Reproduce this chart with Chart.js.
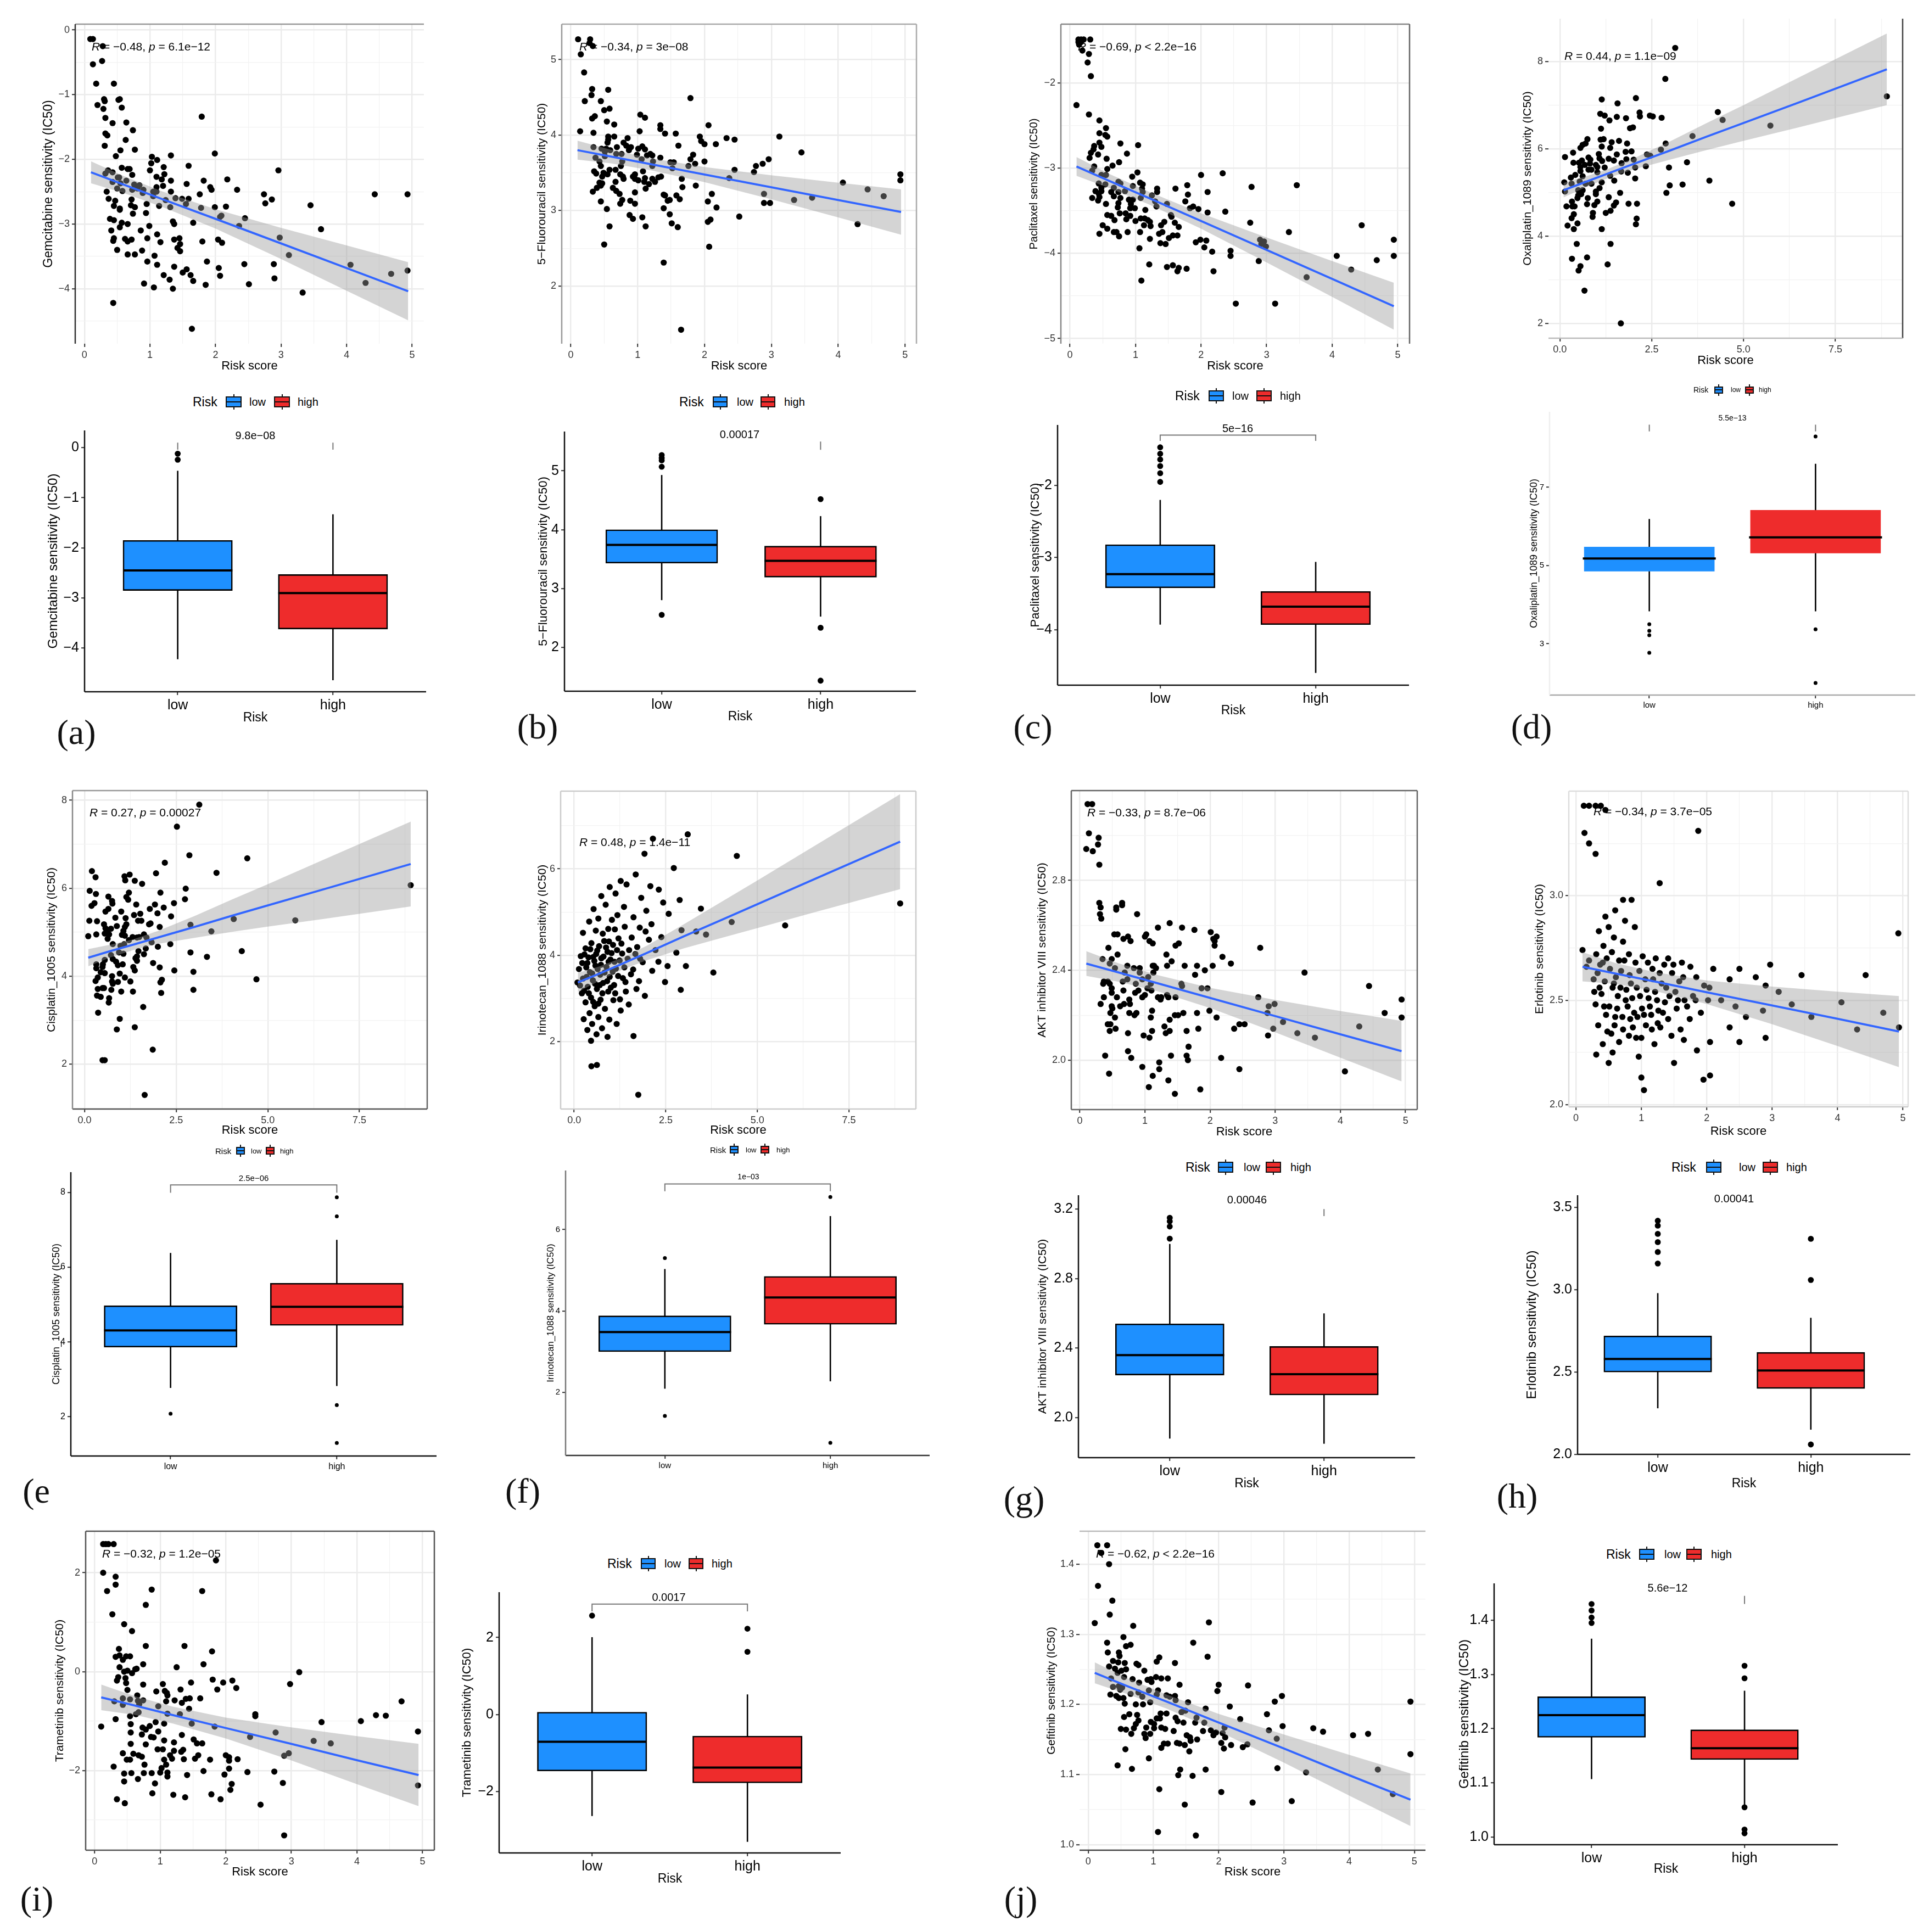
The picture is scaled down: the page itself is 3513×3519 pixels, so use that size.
<!DOCTYPE html>
<html><head><meta charset="utf-8">
<script src="https://cdn.jsdelivr.net/npm/chart.js@4/dist/chart.umd.min.js"></script>
<style>
html,body{margin:0;padding:0;background:#fff}
#page{position:relative;width:3513px;height:3519px;overflow:hidden;background:#fff}
canvas{position:absolute}
.t{position:absolute;white-space:nowrap;color:#000;font-family:"Liberation Sans",Arial,sans-serif;transform:translateY(-50%);line-height:1}
.l{position:absolute;white-space:nowrap;color:#111;font-family:"Liberation Serif",serif;transform:translate(-50%,-50%);line-height:1}
.k{position:absolute;box-sizing:border-box;border:2px solid #111}
.k i{position:absolute;left:0;right:0;top:50%;height:2px;margin-top:-1px;background:#111}
.k b{position:absolute;left:50%;width:2px;margin-left:-1px;background:#111}
</style></head><body><div id="page"></div>
<script>
const riskGroups=['low','high'];
const riskColors=['#1E90FF','#EE2C2C'];

/* ---------- scatter values: [risk score, IC50] ---------- */
const a_points=[[.09,-.14],[.13,-.14],[.28,-.25],[.27,-.48],[.13,-.53],[.18,-.83],[.45,-.83],[.30,-1.07],[.31,-1.10],[.54,-1.07],[.52,-1.08],[.2,-1.16],[.29,-1.22],[.57,-1.20],[.32,-1.36],[.43,-1.44],[.64,-1.43],[.74,-1.55],[1.79,-1.34],[.32,-1.6],[.35,-1.63],[.63,-1.7],[.31,-1.79],[.55,-1.86],[.77,-1.85],[.48,-1.95],[1.03,-1.96],[1.11,-2.01],[1.02,-2.06],[1.32,-1.94],[1.99,-1.91],[.57,-2.13],[.66,-2.15],[.69,-2.15],[1.0,-2.17],[1.21,-2.12],[1.59,-2.10],[2.96,-2.17],[.32,-2.22],[.36,-2.17],[.43,-2.2],[.73,-2.24],[1.22,-2.23],[1.10,-2.27],[.51,-2.28],[.53,-2.28],[1.18,-2.31],[1.32,-2.33],[.64,-2.33],[1.82,-2.33],[2.18,-2.31],[.43,-2.35],[.55,-2.37],[.76,-2.39],[.84,-2.40],[1.56,-2.38],[1.20,-2.41],[1.10,-2.43],[1.92,-2.43],[.50,-2.45],[.73,-2.47],[.81,-2.45],[.90,-2.47],[.58,-2.49],[1.94,-2.47],[2.33,-2.47],[.34,-2.5],[.89,-2.52],[1.05,-2.5],[1.1,-2.5],[1.32,-2.5],[1.76,-2.54],[2.74,-2.54],[4.43,-2.54],[4.93,-2.54],[1.05,-2.57],[.37,-2.61],[.47,-2.64],[.72,-2.62],[1.39,-2.6],[1.24,-2.63],[1.49,-2.61],[1.59,-2.61],[2.86,-2.62],[.95,-2.69],[2.76,-2.68],[1.55,-2.69],[3.45,-2.71],[.45,-2.72],[.71,-2.71],[.77,-2.74],[1.14,-2.72],[1.31,-2.74],[1.78,-2.75],[1.99,-2.74],[2.16,-2.73],[.54,-2.78],[.54,-2.76],[.74,-2.84],[.94,-2.83],[2.07,-2.89],[2.09,-2.87],[2.45,-2.91],[.39,-2.92],[.45,-2.94],[1.35,-2.96],[1.37,-3.0],[.57,-2.98],[.66,-3.0],[1.66,-2.98],[2.36,-3.03],[.99,-3.03],[.54,-3.05],[.41,-3.1],[.86,-3.1],[3.61,-3.08],[1.11,-3.16],[.45,-3.22],[.96,-3.22],[1.45,-3.22],[2.98,-3.21],[.44,-3.26],[.62,-3.23],[.66,-3.27],[.72,-3.24],[1.37,-3.24],[1.8,-3.27],[2.04,-3.24],[2.1,-3.29],[1.16,-3.28],[1.46,-3.31],[1.42,-3.37],[1.46,-3.42],[.5,-3.4],[.88,-3.41],[.66,-3.47],[.77,-3.47],[1.07,-3.49],[3.12,-3.48],[.96,-3.58],[1.87,-3.58],[2.89,-3.62],[2.44,-3.62],[1.11,-3.63],[1.37,-3.66],[4.06,-3.63],[2.05,-3.68],[1.56,-3.7],[1.5,-3.75],[4.93,-3.72],[4.68,-3.77],[1.21,-3.79],[1.62,-3.79],[2.07,-3.8],[2.9,-3.84],[1.3,-3.86],[1.66,-3.88],[4.29,-3.91],[.91,-3.92],[1.85,-3.94],[2.51,-3.93],[1.06,-3.98],[1.35,-4.0],[3.33,-4.06],[.44,-4.22],[1.64,-4.62]];
const b_points=[[.11,5.27],[.29,5.27],[.28,5.22],[.33,5.18],[.15,5.07],[.20,4.83],[.32,4.61],[.31,4.53],[.56,4.60],[.21,4.45],[.45,4.45],[1.79,4.49],[.5,4.33],[.58,4.35],[.36,4.25],[.32,4.22],[1.04,4.27],[1.11,4.23],[.54,4.18],[.65,4.14],[1.34,4.13],[1.34,4.08],[2.06,4.13],[.14,4.05],[.34,4.03],[1.03,4.05],[1.41,4.02],[1.57,4.02],[.65,3.98],[.56,3.98],[.56,3.94],[.85,3.96],[1.93,3.98],[2.33,3.96],[2.45,3.94],[3.12,3.98],[.55,3.9],[.79,3.9],[1.95,3.92],[2.0,3.88],[2.17,3.88],[.34,3.84],[.69,3.84],[.83,3.86],[1.61,3.86],[1.07,3.85],[1.01,3.82],[.46,3.82],[.53,3.82],[.59,3.80],[.87,3.8],[.9,3.84],[1.11,3.81],[.51,3.78],[.68,3.75],[.76,3.75],[.99,3.74],[1.19,3.75],[3.45,3.77],[.37,3.7],[.51,3.72],[1.14,3.73],[1.22,3.73],[1.83,3.74],[1.34,3.7],[1.06,3.68],[1.79,3.68],[2.0,3.65],[2.96,3.68],[1.23,3.65],[.77,3.65],[.43,3.65],[1.49,3.64],[1.54,3.64],[1.86,3.62],[2.87,3.62],[2.77,3.59],[.45,3.59],[.75,3.59],[1.22,3.59],[1.76,3.59],[.67,3.54],[.58,3.54],[.35,3.52],[1.08,3.52],[2.45,3.54],[2.74,3.51],[1.52,3.56],[.38,3.49],[.49,3.5],[.55,3.48],[.74,3.48],[.96,3.48],[.93,3.45],[.78,3.45],[.79,3.42],[1.35,3.45],[1.11,3.43],[1.31,3.44],[1.22,3.42],[1.66,3.42],[2.37,3.43],[.96,3.42],[1.01,3.4],[.47,3.45],[.67,3.38],[.43,3.37],[1.1,3.38],[1.26,3.38],[.47,3.36],[4.07,3.37],[1.17,3.35],[.45,3.33],[1.87,3.33],[1.67,3.31],[.39,3.3],[.63,3.3],[1.12,3.29],[4.44,3.28],[4.93,3.48],[4.93,3.4],[.68,3.26],[.33,3.25],[.96,3.24],[.73,3.22],[2.11,3.22],[2.89,3.22],[1.39,3.21],[1.41,3.2],[1.58,3.2],[4.68,3.19],[3.61,3.17],[.77,3.14],[.74,3.09],[.89,3.13],[1.48,3.14],[1.63,3.15],[1.45,3.13],[.45,3.12],[3.34,3.14],[2.05,3.12],[2.89,3.1],[2.98,3.1],[.96,3.09],[2.18,3.04],[.54,3.02],[1.39,3.03],[1.48,2.95],[.88,2.94],[2.52,2.92],[.93,2.89],[1.07,2.91],[2.09,2.88],[2.05,2.85],[1.51,2.83],[4.29,2.82],[.58,2.79],[1.12,2.79],[1.6,2.78],[.5,2.55],[2.07,2.52],[1.39,2.31],[1.65,1.42]];
const c_points=[[.13,-1.49],[.17,-1.49],[.21,-1.49],[.13,-1.52],[.17,-1.52],[.14,-1.55],[.31,-1.49],[.19,-1.62],[.29,-1.66],[.27,-1.76],[.32,-1.92],[.1,-2.26],[.29,-2.37],[.45,-2.44],[.55,-2.53],[.45,-2.59],[.54,-2.61],[.57,-2.63],[.77,-2.71],[1.04,-2.73],[.45,-2.7],[.37,-2.74],[.48,-2.75],[.36,-2.78],[.32,-2.82],[.43,-2.84],[.87,-2.83],[.30,-2.88],[.56,-2.89],[.75,-2.93],[.65,-2.97],[.57,-3.01],[.37,-2.98],[.34,-3.03],[1.03,-3.05],[2.33,-3.06],[2.0,-3.08],[.95,-3.1],[.48,-3.08],[.55,-3.08],[.44,-3.18],[.54,-3.19],[.74,-3.16],[.77,-3.18],[1.07,-3.17],[1.11,-3.19],[.96,-3.21],[1.79,-3.2],[2.77,-3.22],[3.46,-3.2],[.48,-3.23],[1.61,-3.24],[.67,-3.23],[1.33,-3.24],[2.1,-3.28],[1.8,-3.31],[1.1,-3.24],[.39,-3.27],[.48,-3.27],[.44,-3.3],[.63,-3.28],[.74,-3.28],[.84,-3.27],[1.11,-3.28],[1.33,-3.28],[1.25,-3.32],[.34,-3.35],[.45,-3.34],[.77,-3.35],[.67,-3.33],[.9,-3.37],[.96,-3.37],[1.08,-3.35],[.43,-3.38],[1.76,-3.39],[1.3,-3.39],[.55,-3.42],[.74,-3.41],[.73,-3.46],[.93,-3.42],[1.48,-3.42],[1.32,-3.45],[1.83,-3.47],[1.88,-3.45],[1.96,-3.48],[.92,-3.47],[.99,-3.47],[1.15,-3.49],[2.37,-3.51],[2.1,-3.52],[.76,-3.53],[.57,-3.55],[.63,-3.56],[.85,-3.53],[.92,-3.56],[1.54,-3.55],[1.55,-3.57],[.68,-3.61],[.86,-3.6],[1.08,-3.59],[1.14,-3.59],[1.19,-3.61],[1.0,-3.62],[1.6,-3.64],[1.44,-3.63],[2.75,-3.64],[1.22,-3.63],[.5,-3.67],[1.13,-3.67],[1.39,-3.67],[1.23,-3.68],[1.66,-3.69],[.57,-3.71],[.45,-3.77],[.67,-3.75],[.71,-3.75],[.88,-3.75],[1.07,-3.75],[1.36,-3.77],[1.41,-3.75],[3.34,-3.75],[4.45,-3.67],[.75,-3.8],[1.57,-3.79],[1.64,-3.79],[1.51,-3.82],[1.22,-3.83],[1.92,-3.87],[1.99,-3.84],[2.08,-3.85],[1.38,-3.88],[1.46,-3.89],[2.9,-3.84],[2.96,-3.86],[2.92,-3.89],[2.99,-3.92],[4.94,-3.84],[1.06,-3.94],[2.05,-3.93],[2.17,-3.98],[2.45,-3.97],[2.45,-4.03],[4.07,-4.03],[4.94,-4.03],[2.88,-4.09],[4.68,-4.08],[1.21,-4.13],[1.48,-4.16],[1.57,-4.14],[1.64,-4.21],[1.66,-4.17],[1.78,-4.18],[2.19,-4.21],[4.29,-4.19],[1.09,-4.32],[3.61,-4.28],[2.53,-4.59],[3.13,-4.59]];
const d_points=[[3.14,8.31],[2.87,7.6],[2.07,7.16],[1.14,7.13],[1.57,7.04],[8.9,7.2],[4.3,6.84],[4.43,6.66],[5.73,6.53],[1.1,6.8],[1.22,6.76],[1.35,6.65],[1.55,6.73],[1.8,6.7],[2.17,6.83],[2.18,6.74],[2.45,6.76],[2.53,6.74],[2.77,6.71],[1.12,6.46],[1.91,6.47],[1.99,6.49],[3.61,6.29],[.75,6.22],[1.11,6.21],[1.19,6.22],[1.41,6.15],[1.61,6.18],[1.83,6.12],[2.88,6.12],[.62,6.09],[.7,6.12],[.56,6.02],[1.14,6.05],[1.37,6.02],[2.75,5.98],[.36,5.91],[.14,5.81],[1.06,5.88],[1.79,5.93],[1.95,5.94],[1.55,5.87],[2.37,5.87],[2.46,5.84],[.37,5.68],[.6,5.73],[.78,5.8],[.83,5.75],[1.08,5.78],[1.33,5.77],[1.81,5.76],[2.01,5.75],[1.47,5.73],[.52,5.68],[.68,5.63],[.82,5.66],[.98,5.63],[1.15,5.72],[1.68,5.67],[3.46,5.69],[.56,5.58],[.78,5.52],[.86,5.52],[1.02,5.58],[1.22,5.57],[2.05,5.57],[2.34,5.6],[2.97,5.57],[.56,5.49],[.3,5.34],[.42,5.4],[.62,5.37],[1.02,5.46],[1.37,5.38],[1.67,5.48],[1.85,5.45],[2.05,5.32],[1.48,5.27],[.12,5.23],[.32,5.2],[.54,5.25],[.7,5.2],[.86,5.2],[1.14,5.23],[4.07,5.27],[2.99,5.16],[3.34,5.18],[.14,5.02],[.5,5.05],[.62,5.05],[1.08,5.1],[.98,5.02],[.98,4.96],[1.64,4.99],[2.9,4.99],[.5,4.93],[.58,4.96],[1.33,4.89],[.33,4.79],[.48,4.87],[.76,4.87],[.74,4.73],[.18,4.68],[.4,4.68],[.34,4.68],[.94,4.71],[1.02,4.79],[1.53,4.77],[1.47,4.7],[1.87,4.74],[2.1,4.74],[4.69,4.74],[.9,4.53],[.89,4.44],[1.25,4.53],[1.38,4.58],[.38,4.5],[.32,4.41],[2.09,4.4],[2.07,4.27],[.48,4.29],[.21,4.24],[.38,4.16],[1.14,4.16],[.46,3.82],[1.38,3.82],[.33,3.48],[.74,3.51],[1.3,3.35],[.56,3.31],[.51,3.21],[.67,2.75],[1.66,2.0]];
const e_points=[[3.13,7.9],[2.52,7.4],[2.86,6.75],[4.44,6.68],[2.19,6.58],[.2,6.39],[3.6,6.35],[1.95,6.34],[1.23,6.31],[.3,6.25],[1.09,6.27],[1.11,6.18],[1.37,6.17],[1.57,6.1],[8.9,6.07],[2.76,5.99],[.14,5.94],[.31,5.87],[2.07,5.9],[1.21,5.9],[.65,5.81],[1.14,5.8],[1.19,5.74],[.75,5.71],[.76,5.65],[2.74,5.75],[2.44,5.66],[.19,5.6],[.27,5.66],[1.41,5.63],[1.92,5.63],[2.16,5.56],[1.78,5.53],[.65,5.53],[.57,5.47],[1.0,5.47],[1.99,5.43],[1.52,5.42],[1.35,5.39],[2.36,5.36],[.84,5.33],[1.12,5.32],[.13,5.26],[.34,5.25],[1.46,5.26],[1.55,5.26],[5.75,5.27],[4.07,5.3],[1.76,5.18],[1.8,5.2],[1.14,5.18],[2.89,5.17],[.53,5.18],[2.05,5.12],[.88,5.14],[1.1,5.12],[.57,5.09],[.72,5.08],[.61,5.02],[3.46,5.02],[1.06,5.03],[.55,4.97],[.67,4.95],[.32,4.95],[.1,4.91],[1.02,4.94],[1.1,4.92],[1.62,4.95],[.63,4.85],[1.31,4.89],[1.43,4.88],[1.49,4.89],[1.21,4.82],[1.69,4.88],[1.83,4.77],[.77,4.73],[.98,4.69],[1.08,4.73],[2.34,4.73],[2.0,4.67],[1.67,4.63],[.72,4.48],[.94,4.54],[1.06,4.51],[1.47,4.57],[2.89,4.54],[4.29,4.57],[1.62,4.5],[1.43,4.45],[1.39,4.41],[3.34,4.44],[.55,4.37],[.77,4.39],[.86,4.33],[1.43,4.35],[.91,4.25],[1.04,4.27],[.32,4.27],[.5,4.27],[.49,4.21],[1.87,4.3],[1.33,4.21],[2.05,4.2],[1.37,4.13],[.32,4.18],[2.45,4.13],[2.97,4.1],[.44,4.09],[.55,4.07],[.96,4.06],[.75,4.0],[1.1,3.97],[.36,3.97],[2.11,3.92],[4.69,3.93],[.3,3.89],[.75,3.88],[.91,3.87],[1.25,3.88],[2.07,3.86],[.77,3.83],[.36,3.71],[.49,3.73],[.53,3.73],[.73,3.69],[2.97,3.69],[1.0,3.65],[1.32,3.65],[2.09,3.62],[.34,3.56],[.44,3.53],[.67,3.5],[.66,3.4],[1.6,3.3],[.37,3.17],[.96,3.03],[1.37,2.84],[.88,2.79],[1.86,2.33],[.49,2.09],[.55,2.09],[1.64,1.3]];
const f_points=[[3.1,6.8],[2.15,6.7],[1.92,6.35],[4.44,6.3],[2.72,6.02],[1.68,5.87],[1.27,5.72],[1.43,5.64],[2.08,5.6],[2.31,5.52],[.97,5.58],[1.13,5.43],[.74,5.37],[1.83,5.33],[2.43,5.22],[2.88,5.28],[8.9,5.2],[3.46,5.08],[1.36,5.12],[.86,5.17],[1.97,5.03],[.53,5.07],[2.58,4.96],[5.76,4.69],[4.3,4.77],[3.33,4.55],[3.6,4.48],[2.93,4.58],[1.18,4.93],[1.62,4.88],[.66,4.85],[1.03,4.82],[.41,4.78],[2.11,4.72],[1.79,4.64],[1.38,4.66],[.93,4.61],[.59,4.57],[.24,4.52],[2.38,4.42],[2.04,4.36],[1.57,4.41],[1.21,4.39],[.82,4.33],[.47,4.28],[1.06,4.24],[1.72,4.19],[.31,4.16],[.63,4.11],[.91,4.08],[1.31,4.04],[2.22,4.12],[2.79,4.06],[.18,3.98],[.52,3.96],[.74,3.93],[.99,3.9],[1.46,3.92],[1.87,3.84],[.36,3.82],[.58,3.76],[.88,3.73],[1.14,3.69],[3.8,3.6],[2.13,3.64],[1.61,3.67],[.13,3.68],[.43,3.61],[.71,3.55],[.97,3.5],[1.33,3.47],[.24,3.46],[.51,3.42],[.79,3.36],[1.09,3.31],[1.77,3.4],[2.48,3.38],[2.91,3.2],[.09,3.37],[.37,3.27],[.62,3.22],[.93,3.16],[1.41,3.16],[1.93,3.06],[.21,3.12],[.46,3.02],[.72,2.97],[1.07,2.96],[.31,2.91],[.56,2.82],[.84,2.76],[1.27,2.72],[.42,2.66],[.66,2.57],[.96,2.51],[.26,2.52],[.49,2.41],[.76,2.31],[1.16,2.41],[.36,2.27],[.61,2.17],[.91,2.11],[.46,2.02],[1.62,2.13],[.47,1.43],[.62,1.46],[1.75,.77],
[.28,4.02],[.33,3.72],[.39,3.95],[.44,4.14],[.49,3.58],[.55,3.87],[.57,3.34],[.6,4.03],[.64,3.68],[.68,4.21],[.7,3.31],[.73,3.78],[.77,3.12],[.8,3.97],[.83,3.6],[.87,4.18],[.9,3.4],[.94,3.85],[1.0,3.25],[1.02,4.05],[1.05,3.62],[1.1,3.85],[1.12,3.12],[1.17,4.12],[1.2,3.52],[1.24,3.88],[1.29,4.27],[1.37,3.72],[1.4,3.38],[1.5,4.12],[1.55,3.56],[1.67,4.03],[1.7,3.22],[1.8,3.92],[.16,3.3],[.22,3.82],[.27,3.18],[.34,3.5],[.4,3.12],[.52,2.92],[.66,2.88],[.78,4.5],[.95,4.32],[1.11,4.6],[1.25,2.98],[1.49,2.86],[1.95,4.55],[2.3,3.85],[2.55,3.75],[3.05,3.75]];
const g_points=[[.12,3.14],[.19,3.14],[.14,3.01],[.29,2.99],[.28,2.96],[.1,2.94],[.2,2.93],[.3,2.87],[.3,2.7],[.32,2.68],[.31,2.65],[.33,2.63],[.56,2.68],[.56,2.67],[.65,2.7],[.65,2.69],[.88,2.65],[1.2,2.59],[1.38,2.61],[1.57,2.59],[1.76,2.58],[2.01,2.57],[2.1,2.55],[2.05,2.54],[2.07,2.53],[2.07,2.51],[.53,2.56],[.58,2.56],[1.02,2.56],[1.0,2.55],[.74,2.55],[.67,2.54],[.78,2.53],[1.07,2.53],[1.12,2.52],[1.52,2.52],[1.47,2.51],[.44,2.5],[2.77,2.5],[.58,2.47],[2.19,2.46],[1.33,2.47],[.35,2.45],[.49,2.45],[2.32,2.43],[1.41,2.44],[.46,2.43],[.73,2.42],[.54,2.41],[1.34,2.42],[1.61,2.42],[1.8,2.42],[2.04,2.42],[1.12,2.42],[1.14,2.42],[1.92,2.4],[.83,2.41],[.92,2.41],[1.17,2.41],[.69,2.39],[.92,2.39],[3.45,2.39],[1.13,2.39],[1.77,2.38],[1.05,2.37],[.96,2.36],[.73,2.36],[.66,2.35],[.37,2.35],[.43,2.35],[.36,2.34],[.46,2.34],[.86,2.34],[1.56,2.34],[1.57,2.33],[1.09,2.34],[4.44,2.33],[.49,2.32],[.49,2.3],[1.04,2.32],[1.1,2.31],[1.96,2.32],[1.87,2.32],[.67,2.31],[.9,2.31],[.85,2.3],[1.0,2.29],[.96,2.28],[1.34,2.29],[.37,2.28],[.57,2.28],[1.2,2.28],[1.25,2.28],[1.24,2.27],[1.36,2.28],[1.47,2.28],[2.74,2.28],[4.94,2.27],[.32,2.25],[.62,2.24],[.68,2.25],[.76,2.27],[.77,2.25],[.49,2.24],[.5,2.23],[2.99,2.25],[2.9,2.24],[.47,2.21],[.76,2.21],[.87,2.21],[.84,2.2],[1.11,2.22],[1.8,2.21],[1.99,2.22],[2.88,2.21],[4.68,2.21],[1.59,2.21],[1.46,2.2],[1.51,2.2],[.54,2.19],[1.09,2.19],[2.1,2.19],[4.94,2.19],[1.38,2.18],[3.12,2.17],[.43,2.16],[.47,2.16],[2.53,2.16],[2.45,2.16],[1.3,2.15],[4.29,2.15],[2.37,2.14],[2.97,2.14],[.55,2.14],[.46,2.13],[1.82,2.14],[1.11,2.13],[1.64,2.13],[1.38,2.13],[1.32,2.12],[.74,2.12],[3.34,2.12],[.98,2.11],[1.07,2.1],[2.89,2.11],[3.61,2.1],[1.67,2.06],[.74,2.04],[.39,2.02],[1.4,2.02],[1.64,2.02],[2.17,2.01],[.79,2.01],[1.66,2.0],[1.22,1.99],[.96,1.97],[1.22,1.96],[2.45,1.96],[.45,1.94],[4.07,1.95],[1.12,1.93],[1.36,1.91],[1.06,1.88],[1.85,1.87],[1.46,1.85]];
const h_points=[[.12,3.43],[.2,3.43],[.3,3.43],[.38,3.43],[.45,3.41],[.13,3.3],[.2,3.25],[.3,3.2],[1.87,3.31],[1.28,3.06],[.72,2.98],[.85,2.98],[.6,2.93],[.45,2.9],[.75,2.88],[.5,2.85],[.35,2.83],[.9,2.85],[.58,2.8],[.72,2.78],[.42,2.76],[4.93,2.82],[.1,2.74],[.31,2.72],[.55,2.73],[.81,2.72],[1.02,2.71],[1.22,2.7],[1.41,2.7],[1.62,2.68],[.2,2.69],[.41,2.68],[.66,2.69],[.91,2.68],[1.1,2.68],[1.35,2.67],[1.75,2.66],[2.1,2.65],[2.5,2.65],[2.97,2.67],[3.45,2.62],[4.43,2.62],[.16,2.66],[.33,2.63],[.52,2.65],[.69,2.64],[.97,2.64],[1.17,2.65],[1.47,2.63],[1.84,2.61],[2.35,2.6],[2.75,2.61],[.27,2.6],[.44,2.59],[.61,2.61],[.84,2.58],[1.06,2.6],[1.31,2.58],[1.58,2.59],[2.04,2.56],[2.9,2.57],[3.1,2.54],[.36,2.56],[.56,2.56],[.77,2.55],[.93,2.56],[1.21,2.54],[1.52,2.54],[1.79,2.52],[2.22,2.5],[3.3,2.48],[4.06,2.49],[.39,2.53],[.64,2.52],[.86,2.51],[1.11,2.51],[1.36,2.49],[1.66,2.5],[2.02,2.5],[2.44,2.47],[2.86,2.45],[3.6,2.42],[4.7,2.44],[.3,2.48],[.51,2.47],[.79,2.47],[1.01,2.46],[1.26,2.45],[1.54,2.46],[1.91,2.44],[2.6,2.42],[4.3,2.36],[4.94,2.37],[.46,2.43],[.71,2.42],[.94,2.42],[1.15,2.43],[1.41,2.41],[1.74,2.41],[2.35,2.37],[.34,2.38],[.59,2.38],[.87,2.37],[1.07,2.38],[1.29,2.37],[1.6,2.36],[2.9,2.32],[.54,2.34],[.81,2.33],[1.0,2.32],[1.46,2.33],[1.65,2.31],[2.05,2.3],[2.5,2.3],[.41,2.29],[.66,2.3],[1.2,2.29],[1.85,2.26],[.31,2.24],[.56,2.25],[.96,2.23],[.5,2.2],[1.5,2.2],[1.0,2.13],[2.05,2.14],[1.95,2.12],[1.04,2.07],
[.37,2.67],[.47,2.7],[.58,2.58],[.63,2.46],[.68,2.56],[.74,2.69],[.76,2.5],[.82,2.62],[.89,2.44],[.98,2.52],[1.04,2.43],[1.08,2.55],[1.13,2.47],[1.18,2.6],[1.24,2.5],[1.28,2.63],[1.33,2.44],[1.38,2.56],[1.43,2.52],[1.49,2.67],[1.56,2.5],[1.64,2.61],[1.7,2.47],[1.83,2.5],[1.96,2.57],[.28,2.54],[.43,2.47],[.48,2.35],[.6,2.42],[.72,2.36],[.83,2.41],[.92,2.32],[1.16,2.36],[1.25,2.39]];
const i_points=[[.13,2.58],[.17,2.58],[.21,2.58],[.29,2.58],[1.85,2.25],[.13,2.0],[.32,1.92],[.32,1.76],[.19,1.63],[1.64,1.63],[.87,1.66],[.78,1.35],[.27,1.16],[.45,.96],[.57,.82],[.78,.52],[1.37,.52],[.37,.46],[1.79,.41],[.32,.3],[.38,.33],[.48,.31],[.54,.31],[.43,.24],[.74,.15],[1.66,.15],[.38,.09],[1.25,.09],[.64,.06],[.62,.05],[.45,0],[.5,.02],[.57,-.03],[3.12,-.01],[.36,-.11],[.34,-.18],[.47,-.13],[.48,-.23],[1.8,-.16],[2.1,-.18],[1.96,-.22],[1.47,-.22],[.74,-.26],[1.04,-.25],[2.98,-.25],[2.16,-.33],[.5,-.37],[1.31,-.36],[1.87,-.36],[.94,-.4],[1.07,-.39],[1.1,-.43],[.65,-.48],[1.11,-.48],[.43,-.54],[.54,-.56],[.74,-.58],[1.22,-.58],[1.61,-.54],[1.45,-.54],[1.39,-.55],[1.09,-.6],[4.68,-.6],[.3,-.6],[.66,-.59],[1.33,-.63],[.43,-.67],[.68,-.66],[.97,-.7],[1.44,-.75],[.67,-.82],[.63,-.86],[1.11,-.85],[1.3,-.86],[2.45,-.86],[2.45,-.9],[4.29,-.88],[4.44,-.89],[.54,-.9],[.32,-.96],[4.06,-1.0],[3.46,-1.02],[.55,-1.06],[.93,-1.02],[1.06,-1.05],[1.48,-1.05],[.1,-1.11],[.84,-1.1],[.73,-1.13],[.78,-1.17],[1.83,-1.11],[4.93,-1.21],[.55,-1.23],[.97,-1.21],[.72,-1.27],[1.33,-1.28],[2.76,-1.23],[.86,-1.32],[.9,-1.33],[2.37,-1.32],[1.06,-1.39],[1.51,-1.37],[3.34,-1.4],[.55,-1.46],[.78,-1.47],[1.21,-1.43],[1.56,-1.45],[1.64,-1.45],[3.6,-1.45],[.96,-1.57],[1.04,-1.57],[1.35,-1.58],[1.32,-1.62],[1.21,-1.6],[.43,-1.65],[.59,-1.66],[2.96,-1.65],[.67,-1.69],[.72,-1.72],[2.89,-1.7],[1.58,-1.69],[1.53,-1.76],[2.0,-1.69],[2.05,-1.73],[1.15,-1.69],[.49,-1.78],[.54,-1.78],[1.06,-1.78],[1.18,-1.76],[1.36,-1.77],[1.76,-1.78],[2.05,-1.8],[2.18,-1.77],[.76,-1.88],[1.09,-1.88],[1.02,-1.95],[.29,-1.92],[2.05,-1.96],[1.66,-2.01],[2.33,-2.03],[2.74,-2.02],[.45,-2.06],[.56,-2.05],[.75,-2.05],[.87,-2.05],[1.0,-2.04],[1.11,-2.04],[1.11,-2.12],[1.41,-2.09],[1.98,-2.08],[.66,-2.17],[.45,-2.22],[.92,-2.26],[2.09,-2.27],[2.87,-2.25],[4.93,-2.3],[2.07,-2.39],[.88,-2.46],[1.2,-2.49],[1.78,-2.48],[1.38,-2.54],[.34,-2.58],[1.92,-2.58],[.46,-2.66],[2.53,-2.69],[2.89,-3.31]];
const j_points=[[.14,1.427],[.29,1.427],[.2,1.416],[.32,1.4],[.15,1.369],[.37,1.348],[.33,1.328],[.1,1.316],[1.85,1.317],[.69,1.312],[.54,1.296],[.29,1.288],[1.61,1.288],[.65,1.285],[.58,1.283],[.3,1.274],[.47,1.274],[.48,1.269],[1.83,1.268],[1.09,1.267],[1.05,1.261],[.38,1.262],[.46,1.26],[.56,1.259],[.74,1.258],[.77,1.256],[1.33,1.259],[.32,1.254],[.41,1.251],[.58,1.25],[.51,1.248],[.86,1.248],[.45,1.245],[.55,1.239],[1.04,1.239],[.68,1.236],[.91,1.235],[.96,1.236],[.97,1.232],[1.12,1.237],[1.22,1.237],[.35,1.237],[.78,1.231],[1.4,1.228],[2.0,1.228],[2.45,1.227],[.38,1.225],[.47,1.226],[.52,1.224],[.49,1.221],[.93,1.22],[1.07,1.22],[1.98,1.219],[.34,1.214],[.65,1.215],[.77,1.217],[1.05,1.214],[1.2,1.213],[1.25,1.211],[1.33,1.212],[2.97,1.212],[.43,1.212],[.83,1.211],[.47,1.209],[.54,1.209],[1.34,1.206],[1.53,1.203],[2.86,1.204],[4.94,1.204],[.95,1.203],[.56,1.201],[.73,1.2],[.84,1.2],[2.17,1.197],[1.8,1.194],[1.43,1.189],[1.49,1.191],[.63,1.186],[.75,1.185],[1.2,1.187],[1.11,1.187],[2.74,1.186],[.55,1.182],[1.05,1.18],[1.1,1.18],[1.66,1.181],[1.34,1.181],[2.33,1.179],[.77,1.177],[.73,1.172],[.96,1.175],[1.01,1.172],[1.37,1.176],[1.46,1.174],[1.64,1.174],[1.78,1.174],[.7,1.166],[.89,1.167],[1.01,1.166],[1.12,1.167],[1.18,1.165],[2.98,1.169],[3.45,1.166],[2.09,1.167],[.5,1.165],[.58,1.164],[.66,1.158],[.86,1.158],[1.31,1.162],[1.76,1.162],[1.88,1.163],[1.96,1.16],[2.77,1.163],[3.6,1.161],[.95,1.158],[1.92,1.156],[2.06,1.159],[1.51,1.156],[4.06,1.156],[4.29,1.158],[.88,1.152],[1.56,1.153],[1.57,1.148],[2.1,1.153],[1.67,1.15],[2.89,1.151],[1.36,1.145],[1.4,1.144],[2.04,1.145],[1.48,1.142],[1.22,1.144],[1.16,1.144],[2.19,1.142],[2.44,1.143],[2.37,1.139],[2.08,1.137],[1.12,1.138],[.57,1.136],[1.55,1.133],[4.94,1.129],[.93,1.123],[.45,1.113],[.67,1.108],[2.9,1.109],[1.41,1.107],[1.8,1.107],[4.44,1.107],[3.34,1.103],[1.38,1.099],[1.6,1.098],[1.09,1.079],[2.04,1.075],[4.67,1.072],[3.12,1.062],[2.52,1.06],[1.48,1.057],[1.07,1.018],[1.65,1.013]];

/* ---------- fitted lines and confidence bands ---------- */
const bandX5=[.1,.6,1.2,2,3,4,4.94];
const bandX9=[.1,.7,1.3,2,3,4,5,6.5,8.9];
const a_line=[-2.2,-2.39,-2.62,-2.92,-3.3,-3.68,-4.04], a_hi=[-2.03,-2.26,-2.5,-2.77,-3.06,-3.33,-3.59], a_lo=[-2.37,-2.52,-2.74,-3.07,-3.54,-4.03,-4.49];
const b_line=[3.8,3.715,3.613,3.477,3.308,3.138,2.98], b_hi=[3.925,3.805,3.693,3.577,3.468,3.368,3.28], b_lo=[3.675,3.625,3.533,3.377,3.148,2.908,2.68];
const c_line=[-2.98,-3.15,-3.35,-3.62,-3.96,-4.3,-4.62], c_hi=[-2.87,-3.067,-3.276,-3.53,-3.814,-4.09,-4.345], c_lo=[-3.09,-3.233,-3.424,-3.71,-4.106,-4.51,-4.895];
const d_line=[5.05,5.24,5.43,5.65,5.96,6.28,6.59,7.06,7.82], d_hi=[5.215,5.363,5.533,5.775,6.17,6.59,7.0,7.63,8.64], d_lo=[4.885,5.117,5.327,5.525,5.75,5.97,6.18,6.49,7.0];
const e_line=[4.42,4.57,4.71,4.88,5.12,5.37,5.61,5.97,6.55], e_hi=[4.615,4.715,4.831,5.027,5.367,5.735,6.093,6.64,7.515], e_lo=[4.225,4.425,4.589,4.733,4.873,5.005,5.127,5.3,5.585];
const f_line=[3.37,3.58,3.8,4.06,4.44,4.81,5.18,5.74,6.63], f_hi=[3.59,3.745,3.938,4.228,4.72,5.225,5.73,6.5,7.73], f_lo=[3.15,3.415,3.662,3.892,4.16,4.395,4.63,4.98,5.53];
const g_line=[2.43,2.39,2.342,2.277,2.196,2.115,2.04], g_hi=[2.485,2.431,2.378,2.322,2.268,2.219,2.175], g_lo=[2.375,2.349,2.306,2.232,2.124,2.011,1.905];
const h_line=[2.66,2.628,2.59,2.538,2.475,2.411,2.35], h_hi=[2.73,2.678,2.635,2.594,2.565,2.541,2.52], h_lo=[2.59,2.578,2.545,2.482,2.385,2.281,2.18];
const i_line=[-.52,-.68,-.88,-1.14,-1.46,-1.79,-2.09], i_hi=[-.26,-.49,-.71,-.93,-1.125,-1.305,-1.46], i_lo=[-.78,-.87,-1.05,-1.35,-1.795,-2.275,-2.72];
const j_line=[1.245,1.226,1.204,1.174,1.137,1.099,1.064], j_hi=[1.26,1.2373,1.214,1.1865,1.157,1.128,1.1015], j_lo=[1.23,1.2147,1.194,1.1615,1.117,1.07,1.0265];

/* ---------- box plot values, per group [low, high] ---------- */
const a_q1=[-2.85,-3.62], a_med=[-2.45,-2.9], a_q3=[-1.85,-2.53], a_wLo=[-4.22,-4.64], a_wHi=[-.46,-1.33], a_out=[[-.12,-.24],[]];
const b_q1=[3.43,3.19], b_med=[3.74,3.47], b_q3=[4.0,3.72], b_wLo=[2.8,2.52], b_wHi=[4.93,4.23], b_out=[[5.27,5.22,5.18,5.07,2.55],[4.52,2.33,1.43]];
const c_q1=[-3.42,-3.93], c_med=[-3.23,-3.68], c_q3=[-2.82,-3.47], c_wLo=[-3.93,-4.6], c_wHi=[-2.2,-3.06], c_out=[[-1.47,-1.56,-1.64,-1.73,-1.83,-1.95],[]];
const d_q1=[4.82,5.28], d_med=[5.18,5.72], d_q3=[5.51,6.45], d_wLo=[3.83,3.83], d_wHi=[6.19,7.6], d_out=[[3.5,3.33,3.22,2.77],[8.3,3.37,2.0]];
const e_q1=[3.86,4.44], e_med=[4.31,4.94], e_q3=[4.97,5.57], e_wLo=[2.77,2.82], e_wHi=[6.38,6.73], e_out=[[2.08],[7.87,7.36,2.31,1.3]];
const f_q1=[3.0,3.67], f_med=[3.48,4.33], f_q3=[3.88,4.85], f_wLo=[2.09,2.27], f_wHi=[5.03,6.33], f_out=[[5.3,1.42],[6.8,.76]];
const g_q1=[2.245,2.13], g_med=[2.36,2.25], g_q3=[2.54,2.41], g_wLo=[1.88,1.85], g_wHi=[3.0,2.6], g_out=[[3.15,3.13,3.1,3.03],[]];
const h_q1=[2.5,2.4], h_med=[2.58,2.51], h_q3=[2.72,2.62], h_wLo=[2.28,2.15], h_wHi=[2.98,2.83], h_out=[[3.42,3.39,3.34,3.29,3.23,3.16],[3.31,3.06,2.06]];
const i_q1=[-1.47,-1.78], i_med=[-.71,-1.38], i_q3=[.06,-.56], i_wLo=[-2.64,-3.31], i_wHi=[2.01,.52], i_out=[[2.57],[2.23,1.63]];
const j_q1=[1.184,1.143], j_med=[1.225,1.164], j_q3=[1.259,1.198], j_wLo=[1.107,1.057], j_wHi=[1.366,1.27], j_out=[[1.43,1.418,1.405,1.395],[1.316,1.293,1.055,1.014,1.007]];

/* ---------- text ---------- */
const yTitles={a:'Gemcitabine sensitivity (IC50)',b:'5\u2212Fluorouracil sensitivity (IC50)',c:'Paclitaxel sensitivity (IC50)',d:'Oxaliplatin_1089 sensitivity (IC50)',e:'Cisplatin_1005 sensitivity (IC50)',f:'Irinotecan_1088 sensitivity (IC50)',g:'AKT inhibitor VIII sensitivity (IC50)',h:'Erlotinib sensitivity (IC50)',i:'Trametinib sensitivity (IC50)',j:'Gefitinib sensitivity (IC50)'};
const statTexts={a:'*R* = \u22120.48, *p* = 6.1e\u221212',b:'*R* = \u22120.34, *p* = 3e\u221208',c:'*R* = \u22120.69, *p* < 2.2e\u221216',d:'*R* = 0.44, *p* = 1.1e\u221209',e:'*R* = 0.27, *p* = 0.00027',f:'*R* = 0.48, *p* = 1.4e\u221211',g:'*R* = \u22120.33, *p* = 8.7e\u221206',h:'*R* = \u22120.34, *p* = 3.7e\u221205',i:'*R* = \u22120.32, *p* = 1.2e\u221205',j:'*R* = \u22120.62, *p* < 2.2e\u221216'};
const pTexts={a:'9.8e\u221208',b:'0.00017',c:'5e\u221216',d:'5.5e\u221213',e:'2.5e\u221206',f:'1e\u221203',g:'0.00046',h:'0.00041',i:'0.0017',j:'5.6e\u221212'};
const xScore='Risk score', xRisk='Risk';

const FONT='"Liberation Sans",Arial,sans-serif';
const ML=100,MT=30,MR=30,MB=90;
const page=document.getElementById('page');
function lines(px,py){return px.map((x,i)=>({x,y:py[i]}));}
function decor(cfg,ox,oy){
  return {id:'decor',
    beforeDatasetsDraw(ch){
      const c=ch.ctx;c.save();c.fillStyle='#000';
      (cfg.notes||[]).forEach(n=>{
        c.textBaseline='middle';
        const parts=n.text.split('*');
        c.font=n.size+'px '+FONT;
        let w=0;parts.forEach((p,i)=>{c.font=(i%2?'italic ':'')+n.size+'px '+FONT;w+=c.measureText(p).width;});
        let x=n.x-ox-(n.center?w/2:0);const y=n.y-oy;
        c.textAlign='left';
        parts.forEach((p,i)=>{c.font=(i%2?'italic ':'')+n.size+'px '+FONT;c.fillText(p,x,y);x+=c.measureText(p).width;});
      });
      c.restore();
    },
    afterDraw(ch){
      const {left:L,right:R,top:T,bottom:B}=ch.chartArea,c=ch.ctx,f=cfg.frame;
      c.save();c.lineWidth=cfg.frameW||2.5;
      [[L,T,R,T],[R,T,R,B],[L,B,R,B],[L,T,L,B]].forEach((s,i)=>{
        if(!f[i])return;c.strokeStyle=f[i];c.beginPath();c.moveTo(s[0],s[1]);c.lineTo(s[2],s[3]);c.stroke();
      });
      c.restore();
    }};
}
function axis(cfg,which){
  const s=cfg[which];
  const majors=s.major,minors=s.minor||[];
  const isMajor=v=>majors.some(m=>Math.abs(m-v)<1e-9);
  const tf=cfg.tickFont, grid=cfg.kind==='scatter';
  const o={type:'linear',min:s.range[0],max:s.range[1],offset:false,
    afterBuildTicks(sc){sc.ticks=[...majors,...minors].sort((p,q)=>p-q).map(v=>({value:v}));},
    ticks:{autoSkip:false,maxRotation:0,minRotation:0,color:cfg.tickColor,padding:4,font:{family:FONT,size:tf},
      callback:v=>isMajor(v)?s.fmt(v):''},
    grid:{offset:false,drawOnChartArea:grid,tickLength:6,
      color:c=>c.tick&&isMajor(c.tick.value)?'#ebebeb':'#f2f2f2',
      lineWidth:c=>c.tick&&isMajor(c.tick.value)?2.4:1.2,
      tickColor:c=>c.tick&&isMajor(c.tick.value)?'#333':'rgba(0,0,0,0)',tickWidth:2},
    border:{display:false}};
  const tsize=which==='x'?cfg.xTitleSize:cfg.yTitleSize, lh=tsize*1.2;
  if(which==='x'){
    o.afterFit=sc=>{sc.height=MB;};
    if(cfg.xTitle)o.title={display:true,text:cfg.xTitle,color:'#000',font:{family:FONT,size:tsize},
      padding:{top:0,bottom:Math.max(0,cfg.rect[3]+MB-cfg.xTitleY-lh/2)}};
  }else{
    o.afterFit=sc=>{sc.width=ML;};
    o.title={display:true,text:cfg.yTitle,color:'#000',font:{family:FONT,size:tsize},
      padding:{top:Math.max(0,cfg.yTitleX-(cfg.rect[0]-ML)-lh/2),bottom:0}};
  }
  return o;
}
function mount(cfg,type,datasets){
  const [l,t,r,b]=cfg.rect;
  const cv=document.createElement('canvas');
  const ox=l-ML,oy=t-MT,w=r-l+ML+MR,h=b-t+MT+MB;
  cv.width=w;cv.height=h;cv.style.left=ox+'px';cv.style.top=oy+'px';cv.style.width=w+'px';cv.style.height=h+'px';
  page.appendChild(cv);
  new Chart(cv.getContext('2d'),{type,data:{datasets},plugins:[decor(cfg,ox,oy)],
    options:{responsive:false,animation:false,devicePixelRatio:1,
      layout:{autoPadding:false,padding:{left:0,top:MT,right:MR,bottom:0}},
      plugins:{legend:{display:false},tooltip:{enabled:false}},
      scales:{x:axis(cfg,'x'),y:axis(cfg,'y')}}});
}
function scatterPanel(cfg){
  const lineStyle={type:'line',pointRadius:0,tension:0};
  mount(cfg,'scatter',[
    {data:cfg.points.map(p=>({x:p[0],y:p[1]})),backgroundColor:'#000',borderColor:'#000',pointRadius:cfg.radius||5.6,pointBorderWidth:0,showLine:false,order:3},
    {...lineStyle,data:lines(cfg.bandX,cfg.hi),borderWidth:0,borderColor:'rgba(0,0,0,0)',backgroundColor:'rgba(153,153,153,0.42)',fill:'+1',order:2},
    {...lineStyle,data:lines(cfg.bandX,cfg.lo),borderWidth:0,borderColor:'rgba(0,0,0,0)',fill:false,order:2.5},
    {...lineStyle,data:lines(cfg.bandX,cfg.line),borderColor:'#3366FF',borderWidth:cfg.lineW||3.8,fill:false,order:1}
  ]);
}
function boxPanel(cfg){
  const w=cfg.boxW,[l,,r]=cfg.rect,px=(r-l)/(cfg.x.range[1]-cfg.x.range[0]);
  const seg={type:'line',pointRadius:0,tension:0,fill:false};
  const ds=[{type:'bar',data:cfg.q1.map((v,i)=>({x:i+1,y:[v,cfg.q3[i]]})),backgroundColor:riskColors,borderColor:cfg.boxEdge||'#000',borderWidth:cfg.boxLW||2.6,borderSkipped:false,barThickness:w*px,order:2}];
  cfg.q1.forEach((_,i)=>{
    ds.push({...seg,data:[{x:i+1,y:cfg.wLo[i]},{x:i+1,y:cfg.wHi[i]}],borderColor:'#000',borderWidth:cfg.wW||2.6,order:3});
    ds.push({...seg,data:[{x:i+1-w/2,y:cfg.med[i]},{x:i+1+w/2,y:cfg.med[i]}],borderColor:'#000',borderWidth:cfg.medW||4,order:1});
    ds.push({type:'scatter',showLine:false,data:cfg.out[i].map(v=>({x:i+1,y:v})),backgroundColor:'#000',pointRadius:cfg.radius||5.4,pointBorderWidth:0,order:1});
  });
  (cfg.brackets||[]).forEach(br=>ds.push({...seg,data:br.map(p=>({x:p[0],y:p[1]})),borderColor:'#777',borderWidth:2,order:1}));
  mount(cfg,'bar',ds);
}
function addText(s,x,y,size,color){const d=document.createElement('div');d.className='t';d.textContent=s;d.style.left=x+'px';d.style.top=y+'px';d.style.fontSize=size+'px';if(color)d.style.color=color;page.appendChild(d);}
function addKey(x,y,w,h,col){const k=document.createElement('div');k.className='k';k.style.cssText=`left:${x}px;top:${y-h/2}px;width:${w}px;height:${h}px;background:${col}`;
  k.innerHTML='<i></i><b style="top:-6px;height:5px"></b><b style="bottom:-6px;height:5px"></b>';page.appendChild(k);}
function legend(y,rx,k1,lx,k2,hx,kw,kh,fs,ls){addText('Risk',rx,y,fs);addKey(k1,y,kw,kh,riskColors[0]);addText('low',lx,y,ls);addKey(k2,y,kw,kh,riskColors[1]);addText('high',hx,y,ls);}
function letter(s,x,y,size){const d=document.createElement('div');d.className='l';d.textContent=s;d.style.left=x+'px';d.style.top=y+'px';d.style.fontSize=(size||64)+'px';page.appendChild(d);}

const int=v=>String(v).replace('-','\u2212'), d1=v=>v.toFixed(1);
const x5={major:[0,1,2,3,4,5],minor:[.5,1.5,2.5,3.5,4.5],fmt:int};
const x9={major:[0,2.5,5,7.5],minor:[1.25,3.75,6.25,8.75],fmt:d1};
function sc(id,o){scatterPanel(Object.assign({kind:'scatter',tickFont:18,tickColor:'#333',xTitle:xScore,xTitleSize:22,yTitle:yTitles[id],yTitleSize:22},o));}
function bx(id,o){boxPanel(Object.assign({kind:'box',tickFont:25,tickColor:'#000',yTitle:yTitles[id],yTitleSize:23,xTitle:xRisk,xTitleSize:23,frame:[null,null,'#111','#111'],boxW:.705},o));}
const catX=r=>({range:r,major:[1,2],fmt:v=>riskGroups[v-1]});

/* ---------- scatter panels ---------- */
sc('a',{rect:[137,44,772,626],x:{...x5,range:[-.14,5.18]},y:{major:[0,-1,-2,-3,-4],minor:[-.5,-1.5,-2.5,-3.5,-4.5],range:[-4.85,.09],fmt:int},points:a_points,bandX:bandX5,line:a_line,hi:a_hi,lo:a_lo,yTitleX:89,xTitleY:667,yTitleSize:23,frame:['#999',null,null,'#333'],notes:[{text:statTexts.a,x:167,y:86,size:21}]});
sc('b',{rect:[1023,44,1669,626],x:{...x5,range:[-.135,5.17]},y:{major:[2,3,4,5],minor:[2.5,3.5,4.5],range:[1.235,5.47],fmt:int},points:b_points,bandX:bandX5,line:b_line,hi:b_hi,lo:b_lo,yTitleX:987,xTitleY:667,yTitleSize:21,frame:['#aaa','#aaa',null,'#999'],notes:[{text:statTexts.b,x:1055,y:86,size:21}]});
sc('c',{rect:[1932,44,2567,626],x:{...x5,range:[-.138,5.18]},y:{major:[-2,-3,-4,-5],minor:[-2.5,-3.5,-4.5],range:[-5.06,-1.31],fmt:int},points:c_points,bandX:bandX5,line:c_line,hi:c_hi,lo:c_lo,yTitleX:1883,xTitleY:667,yTitleSize:20,frame:['#888','#666',null,'#888'],notes:[{text:statTexts.c,x:1963,y:86,size:21}]});
sc('d',{rect:[2820,34,3465,616],x:{...x9,range:[-.31,9.33]},y:{major:[2,4,6,8],minor:[3,5,7],range:[1.66,8.98],fmt:int},points:d_points,bandX:bandX9,line:d_line,hi:d_hi,lo:d_lo,yTitleX:2782,xTitleY:657,yTitleSize:21,frame:[null,'#444','#bbb',null],notes:[{text:statTexts.d,x:2849,y:103,size:21}]});
sc('e',{rect:[132,1440,778,2020],x:{...x9,range:[-.33,9.35]},y:{major:[2,4,6,8],minor:[3,5,7],range:[.98,8.22],fmt:int},points:e_points,bandX:bandX9,line:e_line,hi:e_hi,lo:e_lo,yTitleX:94,xTitleY:2059,yTitleSize:21,frame:['#999','#666','#555','#888'],notes:[{text:statTexts.e,x:163,y:1481,size:21}]});
sc('f',{rect:[1021,1441,1668,2020],x:{...x9,range:[-.37,9.33]},y:{major:[2,4,6],minor:[3,5,7],range:[.44,7.8],fmt:int},points:f_points,bandX:bandX9,line:f_line,hi:f_hi,lo:f_lo,yTitleX:988,xTitleY:2059,yTitleSize:21,frame:['#ccc','#ccc','#ccc','#ccc'],notes:[{text:statTexts.f,x:1055,y:1535,size:21}]});
sc('g',{rect:[1951,1440,2581,2021],x:{...x5,range:[-.13,5.18]},y:{major:[2,2.4,2.8],minor:[1.8,2.2,2.6,3.0],range:[1.78,3.2],fmt:d1},points:g_points,bandX:bandX5,line:g_line,hi:g_hi,lo:g_lo,yTitleX:1898,xTitleY:2062,yTitleSize:21,frame:['#666','#666','#666','#666'],notes:[{text:statTexts.g,x:1980,y:1481,size:21}]});
sc('h',{rect:[2857,1441,3475,2016],x:{...x5,range:[-.11,5.08]},y:{major:[2,2.5,3],minor:[2.25,2.75,3.25],range:[1.99,3.5],fmt:d1},points:h_points,bandX:bandX5,line:h_line,hi:h_hi,lo:h_lo,yTitleX:2804,xTitleY:2061,yTitleSize:21,frame:['#ddd','#ddd','#ccc','#ddd'],notes:[{text:statTexts.h,x:2902,y:1479,size:21}]});
sc('i',{rect:[156,2789,791,3370],x:{...x5,range:[-.137,5.18]},y:{major:[-2,0,2],minor:[-3,-1,1],range:[-3.61,2.84],fmt:int},points:i_points,bandX:bandX5,line:i_line,hi:i_hi,lo:i_lo,yTitleX:109,xTitleY:3410,yTitleSize:21,frame:['#555','#555','#555','#555'],notes:[{text:statTexts.i,x:186,y:2831,size:21}]});
sc('j',{rect:[1966,2789,2596,3370],x:{...x5,range:[-.133,5.17]},y:{major:[1,1.1,1.2,1.3,1.4],minor:[1.05,1.15,1.25,1.35],range:[.992,1.447],fmt:d1},points:j_points,bandX:bandX5,line:j_line,hi:j_hi,lo:j_lo,yTitleX:1915,xTitleY:3410,yTitleSize:20.5,frame:['#bbb',null,'#444',null],notes:[{text:statTexts.j,x:1996,y:2831,size:21}]});

/* ---------- box panels ---------- */
bx('a',{rect:[154,784,776,1260],x:catX([.4,2.6]),y:{major:[0,-1,-2,-3,-4],range:[-4.87,.344],fmt:int},q1:a_q1,med:a_med,q3:a_q3,wLo:a_wLo,wHi:a_wHi,out:a_out,yTitleX:97,xTitleY:1308,yTitleSize:24,brackets:[[[1,.1],[1,-.04]],[[2,.1],[2,-.04]]],notes:[{text:pTexts.a,x:465,y:794,size:20,center:true}]});
bx('b',{rect:[1028,786,1668,1259],x:catX([.388,2.6]),y:{major:[2,3,4,5],range:[1.25,5.67],fmt:int},q1:b_q1,med:b_med,q3:b_q3,wLo:b_wLo,wHi:b_wHi,out:b_out,yTitleX:990,xTitleY:1306,yTitleSize:22,brackets:[[[2,5.5],[2,5.36]]],notes:[{text:pTexts.b,x:1347,y:792,size:20,center:true}]});
bx('c',{rect:[1926,774,2566,1248],x:catX([.34,2.6]),y:{major:[-2,-3,-4],range:[-4.77,-1.16],fmt:int},q1:c_q1,med:c_med,q3:c_q3,wLo:c_wLo,wHi:c_wHi,out:c_out,yTitleX:1886,xTitleY:1295,yTitleSize:22,brackets:[[[1,-1.38],[1,-1.3],[2,-1.3],[2,-1.38]]],notes:[{text:pTexts.c,x:2254,y:781,size:20,center:true}]});
bx('d',{rect:[2822,750,3488,1266],x:catX([.4,2.6]),y:{major:[3,5,7],range:[1.69,8.93],fmt:int},tickFont:15,boxW:.8,radius:3.5,q1:d_q1,med:d_med,q3:d_q3,wLo:d_wLo,wHi:d_wHi,out:d_out,xTitle:null,yTitleX:2794,yTitleSize:18,frame:[null,null,'#aaa','#eee'],boxEdge:'rgba(0,0,0,.0)',brackets:[[[1,8.6],[1,8.43]],[[2,8.6],[2,8.43]]],notes:[{text:pTexts.d,x:3155,y:762,size:14,center:true}]});
bx('e',{rect:[129,2135,795,2652],x:catX([.4,2.6]),y:{major:[2,4,6,8],range:[.95,8.54],fmt:int},tickFont:16,boxW:.8,radius:3.5,q1:e_q1,med:e_med,q3:e_q3,wLo:e_wLo,wHi:e_wHi,out:e_out,xTitle:null,yTitleX:103,yTitleSize:18,brackets:[[[1,7.99],[1,8.2],[2,8.2],[2,7.99]]],notes:[{text:pTexts.e,x:462,y:2147,size:15,center:true}]});
bx('f',{rect:[1030,2132,1693,2651],x:catX([.4,2.6]),y:{major:[2,4,6],range:[.45,7.45],fmt:int},tickFont:15,boxW:.8,radius:3.5,q1:f_q1,med:f_med,q3:f_q3,wLo:f_wLo,wHi:f_wHi,out:f_out,xTitle:null,yTitleX:1003,yTitleSize:17,frame:[null,null,'#333','#777'],brackets:[[[1,6.94],[1,7.12],[2,7.12],[2,6.94]]],notes:[{text:pTexts.f,x:1363,y:2144,size:14,center:true}]});
bx('g',{rect:[1964,2177,2577,2655],x:catX([.408,2.59]),y:{major:[2,2.4,2.8,3.2],range:[1.77,3.28],fmt:d1},q1:g_q1,med:g_med,q3:g_q3,wLo:g_wLo,wHi:g_wHi,out:g_out,yTitleX:1899,xTitleY:2703,yTitleSize:21,brackets:[[[2,3.2],[2,3.16]]],notes:[{text:pTexts.g,x:2271,y:2186,size:20,center:true}]});
bx('h',{rect:[2873,2177,3479,2649],x:catX([.476,2.65]),y:{major:[2,2.5,3,3.5],range:[2,3.575],fmt:d1},q1:h_q1,med:h_med,q3:h_q3,wLo:h_wLo,wHi:h_wHi,out:h_out,yTitleX:2790,xTitleY:2703,yTitleSize:24,notes:[{text:pTexts.h,x:3158,y:2184,size:20,center:true}]});
bx('i',{rect:[909,2900,1531,3375],x:catX([.402,2.6]),y:{major:[-2,0,2],range:[-3.6,3.18],fmt:int},q1:i_q1,med:i_med,q3:i_q3,wLo:i_wLo,wHi:i_wHi,out:i_out,yTitleX:851,xTitleY:3423,yTitleSize:22,brackets:[[[1,2.68],[1,2.87],[2,2.87],[2,2.68]]],notes:[{text:pTexts.i,x:1218,y:2910,size:20,center:true}]});
bx('j',{rect:[2721,2884,3347,3360],x:catX([.363,2.61]),y:{major:[1,1.1,1.2,1.3,1.4],range:[.986,1.468],fmt:d1},q1:j_q1,med:j_med,q3:j_q3,wLo:j_wLo,wHi:j_wHi,out:j_out,yTitleX:2667,xTitleY:3405,yTitleSize:24,brackets:[[[2,1.445],[2,1.43]]],notes:[{text:pTexts.j,x:3037,y:2893,size:20,center:true}]});

/* ---------- legends and panel letters ---------- */
legend(732,351,411,454,499,542,29,20,23,20);
legend(732,1237,1298,1342,1385,1428,27,20,23,20);
legend(721,2140,2201,2244,2288,2331,28,20,23,20);
legend(710,3084,3122,3152,3178,3203,16,13,14,12);
legend(2096,392,430,457,484,510,16,14,15,13);
legend(2094,1293,1329,1358,1385,1414,16,14,15,13);
legend(2126,2159,2218,2265,2305,2350,28,20,23,20);
legend(2126,3044,3107,3167,3210,3253,28,20,23,20);
legend(2848,1106,1167,1210,1254,1296,27,20,23,20);
legend(2831,2925,2985,3031,3071,3116,28,20,23,20);
letter('(a)',139,1334);letter('(b)',979,1324);letter('(c)',1881,1324);letter('(d)',2789,1324);
letter('(e',66,2716);letter('(f)',952,2716);letter('(g)',1865,2730);letter('(h)',2763,2725);
letter('(i)',67,3459);letter('(j)',1859,3459);
</script></body></html>
